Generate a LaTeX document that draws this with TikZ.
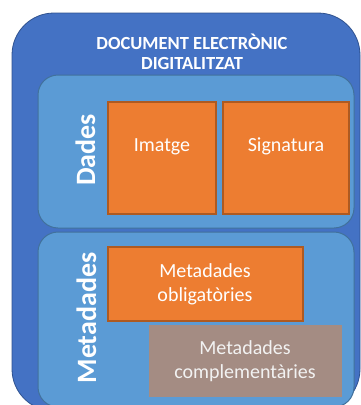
\documentclass[tikz,border=0pt]{standalone}
\usepackage{fontspec}
\setmainfont{Carlito}
\definecolor{outerblue}{HTML}{4472C4}
\definecolor{outerline}{HTML}{2F528F}
\definecolor{innerblue}{HTML}{5B9BD5}
\definecolor{innerline}{HTML}{41719C}
\definecolor{orangefill}{HTML}{ED7D31}
\definecolor{orangeline}{HTML}{AE5A21}
\definecolor{brownfill}{HTML}{A48C83}
\definecolor{lighttext}{HTML}{F2F2F2}
\tikzset{
  box/.style={rectangle, inner sep=0pt, outer sep=0pt, anchor=north west},
  outerbox/.style={box, fill=outerblue, draw=outerline, line width=0.8pt, rounded corners=42pt},
  groupbox/.style={box, fill=innerblue, draw=innerline, line width=1pt, rounded corners=20pt},
  orangebox/.style={box, fill=orangefill, draw=orangeline, line width=1.5pt},
  brownbox/.style={box, fill=brownfill},
  titletext/.style={text=white, font=\fontsize{18.5}{20}\selectfont\bfseries, inner sep=0pt, anchor=base},
  sidetext/.style={text=white, font=\fontsize{28}{30}\selectfont\bfseries, inner sep=0pt, rotate=90, anchor=base},
  labeltext/.style={text=white, font=\fontsize{20}{24}\selectfont, inner sep=0pt, align=center, anchor=base},
}
\begin{document}
\begin{tikzpicture}[x=1pt, y=-1pt]
\useasboundingbox (0,0) rectangle (361,405);
\node[outerbox, minimum width=348pt, minimum height=398pt] (doc) at (12,13) {};
\node[titletext] (title1) at (192,49) {DOCUMENT ELECTRÒNIC};
\node[titletext] (title2) at (192,69) {DIGITALITZAT};
\node[groupbox, minimum width=316pt, minimum height=153pt] (dades) at (38,75) {};
\node[groupbox, minimum width=316pt, minimum height=175pt] (meta) at (38,232) {};
\node[orangebox, minimum width=108pt, minimum height=112pt] (imatge) at (108,102) {};
\node[orangebox, minimum width=126pt, minimum height=112pt] (signatura) at (223,102) {};
\node[orangebox, minimum width=195pt, minimum height=74pt] (oblig) at (108,247) {};
\node[brownbox, minimum width=193pt, minimum height=72pt] (compl) at (149,325) {};
\node[labeltext] (imatgelabel) at (162,151) {Imatge};
\node[labeltext] (signaturalabel) at (286,151) {Signatura};
\node[labeltext] (obliglabel) at (205,301) {Metadades\\obligatòries};
\node[labeltext, text=lighttext] (compllabel) at (245,378) {Metadades\\complementàries};
\node[sidetext] (dadeslabel) at (95,150) {Dades};
\node[sidetext] (metalabel) at (96,318) {Metadades};
\end{tikzpicture}
\end{document}
